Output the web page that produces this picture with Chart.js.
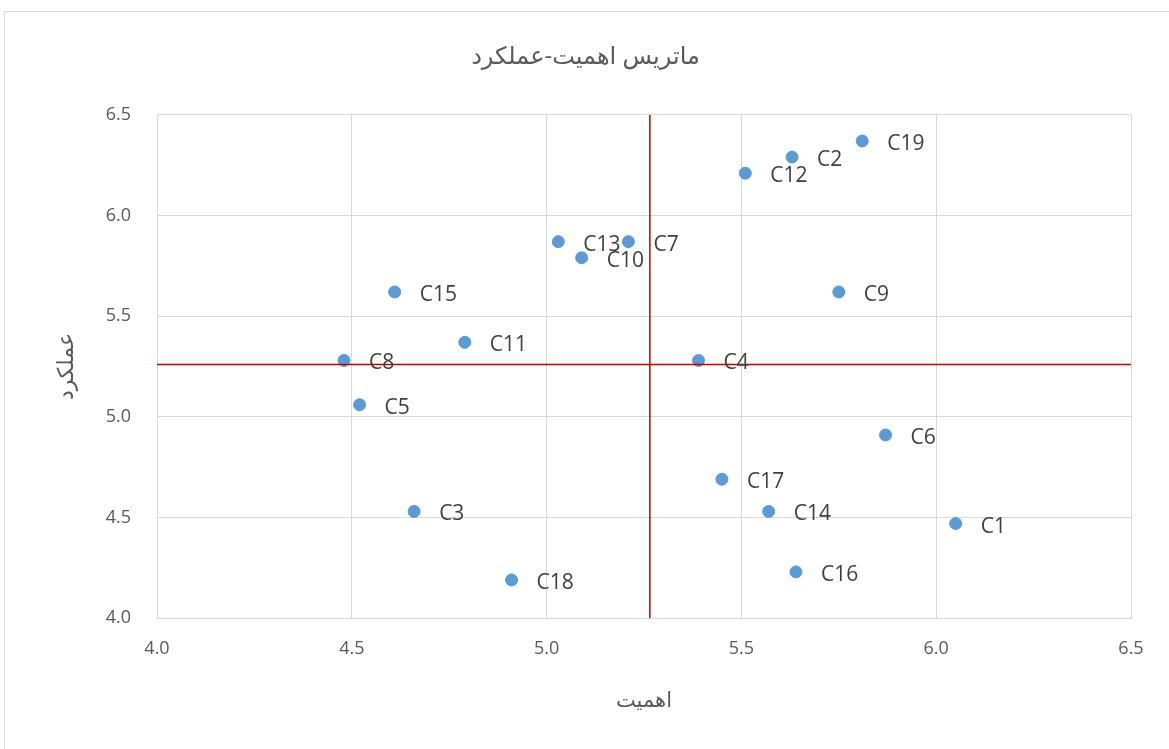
<!DOCTYPE html>
<html>
<head>
<meta charset="utf-8">
<script src="https://cdn.jsdelivr.net/npm/chart.js@4.4.1/dist/chart.umd.min.js"></script>
<style>
  body { margin: 0; background: #fff; }
  #frame { position: absolute; left: 4px; top: 11px; width: 1170px; height: 745px; border: 1px solid #d9d9d9; }
  #wrap { position: absolute; left: 0; top: 0; width: 1169px; height: 749px; }
</style>
</head>
<body>
<div id="frame"></div>
<div id="wrap"><canvas id="myChart"></canvas></div>
<script>
// criteria labels and their (importance, performance) scores
const labels = ['C1', 'C2', 'C3', 'C4', 'C5', 'C6', 'C7', 'C8', 'C9', 'C10',
                'C11', 'C12', 'C13', 'C14', 'C15', 'C16', 'C17', 'C18', 'C19'];
const importance = [6.05, 5.63, 4.66, 5.39, 4.52, 5.87, 5.21, 4.48, 5.75, 5.09,
                    4.79, 5.51, 5.03, 5.57, 4.61, 5.64, 5.45, 4.91, 5.81];
const performance = [4.47, 6.29, 4.53, 5.28, 5.06, 4.91, 5.87, 5.28, 5.62, 5.79,
                     5.37, 6.21, 5.87, 4.53, 5.62, 4.23, 4.69, 4.19, 6.37];
const meanImportance = 5.265;
const meanPerformance = 5.26;
const axisMin = 4.0;
const axisMax = 6.5;

const chartTitle = 'ماتریس اهمیت-عملکرد';
const xTitle = 'اهمیت';
const yTitle = 'عملکرد';

const labelFont = "'Open Sans', 'DejaVu Sans', sans-serif";

// draw the C-labels to the right of each point
const pointLabels = {
    id: 'pointLabels',
    afterDatasetsDraw(chart) {
        const ctx = chart.ctx;
        const meta = chart.getDatasetMeta(2);
        ctx.save();
        ctx.font = '21px ' + labelFont;
        ctx.fillStyle = '#404040';
        ctx.textAlign = 'left';
        ctx.textBaseline = 'middle';
        meta.data.forEach((pt, i) => {
            ctx.fillText(labels[i], pt.x + 25, pt.y + 3);
        });
        ctx.restore();
    }
};

const ctx = document.getElementById('myChart').getContext('2d');
const chart = new Chart(ctx, {
    type: 'scatter',
    data: {
        datasets: [
            {
                type: 'line',
                data: [{ x: axisMin, y: meanPerformance }, { x: axisMax, y: meanPerformance }],
                borderColor: '#c00000',
                borderWidth: 1.5,
                pointRadius: 0
            },
            {
                type: 'line',
                data: [{ x: meanImportance, y: axisMin }, { x: meanImportance, y: axisMax }],
                borderColor: '#c00000',
                borderWidth: 1.5,
                pointRadius: 0
            },
            {
                data: importance.map((v, i) => ({ x: v, y: performance[i] })),
                backgroundColor: '#5b9bd5',
                borderColor: '#5b9bd5',
                pointRadius: 6,
                pointHoverRadius: 6
            }
        ]
    },
    plugins: [pointLabels],
    options: {
        responsive: true,
        maintainAspectRatio: false,
        animation: false,
        events: [],
        layout: {
            padding: { left: 40, right: 38, top: 43, bottom: 31 }
        },
        scales: {
            x: {
                type: 'linear',
                min: axisMin,
                max: axisMax,
                ticks: {
                    stepSize: 0.5,
                    padding: 20,
                    color: '#595959',
                    font: { size: 18, family: labelFont },
                    callback: v => v.toFixed(1)
                },
                grid: { color: '#d9d9d9', drawTicks: false },
                border: { color: '#d9d9d9' },
                title: {
                    display: true,
                    text: xTitle,
                    color: '#595959',
                    font: { size: 21, family: labelFont },
                    padding: { top: 9 }
                }
            },
            y: {
                type: 'linear',
                min: axisMin,
                max: axisMax,
                afterFit: scale => { scale.width = 117; },
                ticks: {
                    stepSize: 0.5,
                    padding: 26,
                    color: '#595959',
                    font: { size: 18, family: labelFont },
                    callback: v => v.toFixed(1)
                },
                grid: { color: '#d9d9d9', drawTicks: false },
                border: { color: '#d9d9d9' },
                title: {
                    display: true,
                    text: yTitle,
                    color: '#595959',
                    font: { size: 22, family: labelFont },
                    padding: { top: 14 }
                }
            }
        },
        plugins: {
            legend: { display: false },
            tooltip: { enabled: false },
            title: {
                display: true,
                text: chartTitle,
                color: '#595959',
                font: { size: 24, family: labelFont, weight: 'normal' },
                padding: { top: 0, bottom: 43 }
            }
        }
    }
});
</script>
</body>
</html>
